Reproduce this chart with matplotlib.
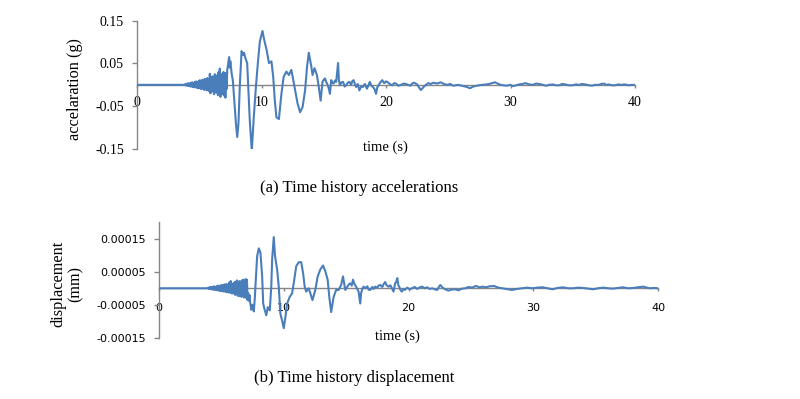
import matplotlib
matplotlib.use("Agg")
import matplotlib.pyplot as plt

# ---- data: (time s, acceleration g) ----
acc_quiet = [(0, 0), (3.8, 0)]
acc_onset = [(3.85, 0.001), (3.9, -0.001), (3.95, 0.002), (4.0, -0.002), (4.05, 0.003),
             (4.1, -0.002), (4.15, 0.004), (4.2, -0.003), (4.25, 0.003), (4.3, -0.004),
             (4.35, 0.005), (4.4, -0.004), (4.45, 0.006), (4.5, -0.005), (4.55, 0.004),
             (4.6, -0.006), (4.65, 0.007), (4.7, -0.005), (4.75, 0.008), (4.8, -0.007),
             (4.85, 0.006), (4.9, -0.008), (4.95, 0.009), (5.0, -0.006), (5.05, 0.011),
             (5.1, -0.009), (5.15, 0.008), (5.2, -0.010), (5.25, 0.012), (5.3, -0.008),
             (5.35, 0.010), (5.4, -0.012), (5.45, 0.014), (5.5, -0.010), (5.55, 0.009),
             (5.6, -0.013), (5.65, 0.016), (5.7, -0.011), (5.75, 0.012), (5.8, -0.015),
             (5.85, 0.026), (5.9, -0.020), (5.95, 0.014), (6.0, -0.012), (6.05, 0.020),
             (6.1, -0.016), (6.15, 0.018), (6.2, -0.022), (6.25, 0.025), (6.3, -0.014),
             (6.35, 0.022), (6.4, -0.018), (6.45, 0.015), (6.5, -0.024), (6.55, 0.030),
             (6.6, -0.020), (6.65, 0.038), (6.7, -0.028), (6.75, 0.020), (6.8, -0.018),
             (6.85, 0.026), (6.9, -0.022), (6.95, 0.030), (7.0, -0.025), (7.05, 0.022),
             (7.1, -0.030), (7.15, 0.028), (7.2, -0.010), (7.25, 0.035), (7.3, 0.045)]
acc_strong = [(7.4, 0.065), (7.45, 0.040), (7.5, 0.055), (7.6, 0.027), (7.7, 0.010),
              (7.8, -0.030), (7.95, -0.092), (8.05, -0.122), (8.15, -0.090), (8.26, 0.000),
              (8.4, 0.079), (8.5, 0.070), (8.6, 0.075), (8.7, 0.063), (8.85, 0.051),
              (8.93, 0.000), (9.06, -0.084), (9.22, -0.154), (9.38, -0.076), (9.55, -0.005),
              (9.73, 0.059), (9.87, 0.102), (10.08, 0.126), (10.21, 0.106), (10.4, 0.083),
              (10.6, 0.051), (10.8, 0.055), (10.94, 0.019), (11.07, -0.037), (11.2, -0.076),
              (11.4, -0.080), (11.6, -0.021), (11.78, 0.019), (12.0, 0.031), (12.2, 0.023),
              (12.4, 0.035), (12.5, 0.019), (12.7, -0.013), (12.9, -0.044), (13.1, -0.064),
              (13.3, -0.052), (13.5, -0.013), (13.66, 0.043), (13.8, 0.075), (14.0, 0.043),
              (14.1, 0.023), (14.26, 0.039), (14.45, 0.023), (14.6, -0.005), (14.75, -0.037)]
acc_coda = [(14.9, 0.007), (15.0, 0.012), (15.1, 0.015), (15.2, 0.006), (15.27, 0.003),
            (15.4, -0.008), (15.5, -0.021), (15.6, 0.011), (15.7, 0.004), (15.8, 0.003),
            (15.9, 0.010), (16.0, 0.007), (16.15, 0.051), (16.22, 0.010), (16.3, -0.001),
            (16.42, 0.006), (16.55, 0.007), (16.68, -0.004), (16.8, -0.001), (16.93, 0.005),
            (17.06, 0.007), (17.2, 0.000), (17.3, 0.009), (17.4, 0.011), (17.5, 0.002),
            (17.6, -0.005), (17.73, 0.002), (17.86, -0.013), (18.0, -0.004), (18.15, -0.005),
            (18.3, 0.002), (18.47, -0.009), (18.6, 0.000), (18.7, 0.007), (18.82, -0.002),
            (18.95, -0.005), (19.08, -0.010), (19.2, -0.021), (19.3, -0.006), (19.4, -0.001),
            (19.55, 0.006), (19.7, 0.011), (19.85, 0.004), (20.0, 0.008), (20.1, 0.007),
            (20.3, 0.002), (20.5, -0.001), (20.65, 0.004), (20.8, 0.003), (21.0, -0.002),
            (21.2, 0.000), (21.45, 0.003), (21.7, 0.001), (21.95, -0.002), (22.1, 0.003),
            (22.25, 0.005), (22.5, 0.001), (22.65, -0.006), (22.8, -0.012), (22.9, -0.009),
            (23.05, -0.004), (23.2, 0.000), (23.4, 0.004), (23.6, 0.002), (23.8, 0.005),
            (24.1, 0.003), (24.4, 0.006), (24.65, 0.002), (24.9, 0.000), (25.15, 0.002),
            (25.4, -0.002), (25.8, 0.000), (26.2, -0.003), (26.5, -0.005), (26.75, -0.008),
            (27.0, -0.004), (27.3, -0.002), (27.7, 0.000), (28.1, 0.001), (28.4, 0.003),
            (28.75, 0.006), (29.1, 0.001), (29.4, -0.001), (29.7, -0.002), (30.0, 0.000),
            (30.2, -0.003), (30.45, -0.001), (30.7, 0.001), (30.95, 0.002), (31.2, 0.004),
            (31.5, 0.001), (31.8, 0.000), (32.05, 0.003), (32.3, 0.002), (32.6, 0.000),
            (32.85, -0.002), (33.1, 0.000), (33.4, 0.001), (33.65, -0.001), (33.9, -0.001),
            (34.15, 0.002), (34.4, 0.001), (34.7, -0.001), (35.0, -0.001), (35.25, 0.001),
            (35.5, 0.000), (35.75, 0.002), (36.0, 0.001), (36.3, -0.001), (36.55, -0.002),
            (36.8, 0.000), (37.1, 0.000), (37.3, 0.002), (37.5, 0.003), (37.7, 0.000),
            (37.9, 0.001), (38.15, -0.001), (38.4, -0.001), (38.65, 0.001), (38.9, 0.000),
            (39.2, 0.001), (39.5, -0.001), (39.75, 0.000), (40.0, 0.000)]

# ---- (time s, displacement in units of 1e-5 mm) ----
disp_quiet = [(0, 0), (3.9, 0)]
disp_onset = [(3.95, 0.2), (4.0, -0.2), (4.05, 0.3), (4.1, -0.2), (4.15, 0.4), (4.2, -0.3),
              (4.25, 0.3), (4.3, -0.4), (4.35, 0.5), (4.4, -0.4), (4.45, 0.6), (4.5, -0.5),
              (4.55, 0.4), (4.6, -0.6), (4.65, 0.7), (4.7, -0.5), (4.75, 0.8), (4.8, -0.7),
              (4.85, 0.6), (4.9, -0.8), (4.95, 0.9), (5.0, -0.7), (5.05, 1.0), (5.1, -0.9),
              (5.15, 0.8), (5.2, -1.0), (5.25, 1.2), (5.3, -0.9), (5.35, 1.1), (5.4, -1.2),
              (5.45, 1.3), (5.5, -1.0), (5.55, 1.0), (5.6, -1.3), (5.65, 1.8), (5.7, -1.2),
              (5.75, 2.2), (5.8, -1.5), (5.85, 1.2), (5.9, -1.6), (5.95, 1.5), (6.0, -1.4),
              (6.05, 1.8), (6.1, -2.0), (6.15, 2.0), (6.2, -1.6), (6.25, 2.4), (6.3, -2.2),
              (6.35, 1.6), (6.4, -2.4), (6.45, 2.2), (6.5, -1.8), (6.55, 2.0), (6.6, -2.6),
              (6.65, 2.4), (6.7, -2.0), (6.75, 2.6), (6.8, -2.8), (6.85, 2.0), (6.9, -2.4),
              (6.95, 2.8), (7.0, -3.0), (7.05, 2.6), (7.1, -3.6), (7.15, -1.5), (7.2, -3.8),
              (7.25, -2.0), (7.3, -4.0), (7.4, -6.5), (7.5, -5.0), (7.6, -7.0), (7.68, -3.0)]
disp_strong = [(7.75, 2.0), (7.87, 9.8), (8.0, 12.1), (8.13, 10.8), (8.27, 3.6), (8.35, -4.6),
               (8.45, -6.2), (8.6, -8.2), (8.72, -5.7), (8.88, -6.7), (9.0, 0.5), (9.07, 8.8),
               (9.2, 15.5), (9.3, 9.8), (9.47, 5.7), (9.6, 0.5), (9.73, -7.7), (9.87, -9.8),
               (10.0, -12.1), (10.13, -8.8), (10.27, -4.6), (10.48, -2.6), (10.67, -1.5),
               (10.8, 1.5), (11.0, 6.7), (11.2, 7.9), (11.4, 7.9), (11.55, 4.6), (11.68, 0.5),
               (11.8, -1.0), (12.0, 0.0), (12.13, -1.5), (12.3, -3.6), (12.53, -0.5),
               (12.72, 3.6), (12.93, 5.7), (13.15, 6.9), (13.33, 5.2), (13.52, 2.6),
               (13.65, -2.6), (13.8, -7.2), (14.0, -2.6), (14.2, -0.5), (14.4, -0.5),
               (14.6, 1.0), (14.75, 3.6)]
disp_coda = [(14.93, -0.5), (15.1, 0.5), (15.22, 1.2), (15.33, 1.5), (15.45, 0.8), (15.55, 2.6),
             (15.68, 1.2), (15.8, 0.5), (15.9, -0.3), (16.0, -1.0), (16.13, -4.6), (16.2, -1.5),
             (16.27, -0.5), (16.4, 0.5), (16.53, 0.0), (16.7, 0.6), (16.8, -0.4), (16.93, -0.5),
             (17.1, 0.4), (17.2, -0.2), (17.33, 0.5), (17.5, 0.2), (17.6, 0.8), (17.73, 1.0),
             (17.9, 0.4), (18.0, 1.2), (18.13, 1.9), (18.25, 0.9), (18.4, 0.5), (18.55, 0.9),
             (18.67, 0.0), (18.8, -1.0), (18.93, 1.5), (19.02, 2.0), (19.1, 3.1), (19.18, 1.0),
             (19.25, 0.5), (19.35, -0.5), (19.46, -1.0), (19.58, -0.3), (19.7, -0.5),
             (19.9, 0.2), (20.1, -0.3), (20.27, 0.0), (20.5, 0.4), (20.7, -0.2), (20.9, 0.3),
             (21.1, 0.5), (21.3, 0.0), (21.5, 0.3), (21.7, -0.2), (21.9, 0.0), (22.1, -0.3),
             (22.3, -0.5), (22.45, 0.5), (22.55, 1.0), (22.7, 0.3), (22.8, 0.0), (23.0, -0.4),
             (23.2, -0.7), (23.45, -0.4), (23.76, -0.3), (24.0, -0.6), (24.3, -0.1),
             (24.57, 0.0), (24.8, 0.4), (25.1, 0.2), (25.4, 0.7), (25.7, 0.3), (25.95, 0.5),
             (26.2, 0.3), (26.5, 0.6), (26.85, 0.7), (27.2, 0.2), (27.5, 0.0), (27.9, -0.3),
             (28.3, -0.5), (28.7, -0.2), (29.1, 0.0), (29.5, 0.2), (29.95, 0.0), (30.35, 0.2),
             (30.75, 0.3), (31.15, 0.0), (31.56, -0.3), (31.95, 0.1), (32.37, 0.3), (32.8, 0.0),
             (33.2, 0.0), (33.6, 0.2), (34.0, 0.1), (34.4, -0.1), (34.8, -0.3), (35.2, 0.0),
             (35.6, 0.2), (36.0, 0.0), (36.4, -0.1), (36.8, 0.1), (37.2, 0.3), (37.6, 0.0),
             (38.0, 0.1), (38.4, 0.3), (38.8, 0.5), (39.1, 0.2), (39.35, 0.0), (39.7, 0.1),
             (40.0, 0.0)]

x_ticks = [0, 10, 20, 30, 40]
acc_ticks = [0.15, 0.05, -0.05, -0.15]
acc_tick_labels = ["0.15", "0.05", "-0.05", "-0.15"]
disp_ticks = [0.00015, 0.00005, -0.00005, -0.00015]
disp_tick_labels = ["0.00015", "0.00005", "-0.00005", "-0.00015"]

acc_pts = acc_quiet + acc_onset + acc_strong + acc_coda
acc_t = [p[0] for p in acc_pts]
acc_g = [p[1] for p in acc_pts]
disp_pts = disp_quiet + disp_onset + disp_strong + disp_coda
disp_t = [p[0] for p in disp_pts]
disp_mm = [p[1] * 1e-5 for p in disp_pts]

LINE = "#4a7ebb"
AXC = "#868686"
SERIF = ["Liberation Serif", "DejaVu Serif"]

fig = plt.figure(figsize=(8.0, 3.99), dpi=100)


def style(ax, ylim, yticks, ylabels, tickfont, tsize, xpad):
    ax.set_xlim(0, 40)
    ax.set_ylim(*ylim)
    for s in ("top", "right"):
        ax.spines[s].set_visible(False)
    ax.spines["bottom"].set_position(("data", 0))
    ax.spines["bottom"].set_color(AXC)
    ax.spines["left"].set_color(AXC)
    ax.spines["bottom"].set_linewidth(1.0)
    ax.spines["left"].set_linewidth(1.0)
    ax.set_xticks(x_ticks)
    ax.set_xticklabels([str(v) for v in x_ticks], family=tickfont, fontsize=tsize)
    ax.set_yticks(yticks)
    ax.set_yticklabels(ylabels, family=tickfont, fontsize=tsize)
    ax.tick_params(axis="x", direction="out", length=2.5, width=1.0, color=AXC, pad=xpad)
    ax.tick_params(axis="y", direction="out", length=3.5, width=1.0, color=AXC, pad=6)
    ax.patch.set_alpha(0)


ax1 = fig.add_axes([0.17125, 0.6266, 0.6225, 0.3215])
ax1.plot(acc_t, acc_g, color=LINE, lw=1.5, zorder=3)
style(ax1, (-0.15, 0.15), acc_ticks, acc_tick_labels, SERIF, 10, 5.5)
ax1.set_ylabel("accelaration (g)", family=SERIF, fontsize=11.7)
ax1.yaxis.set_label_coords(-0.108, 0.469)

ax2 = fig.add_axes([0.19875, 0.1534, 0.62375, 0.2895])
ax2.plot(disp_t, disp_mm, color=LINE, lw=1.5, zorder=3)
style(ax2, (-0.00015, 0.0002), disp_ticks, disp_tick_labels, ["DejaVu Sans"], 8, 8.2)
ax2.set_ylabel("displacement\n(mm)", family=SERIF, fontsize=11.7, linespacing=1.1)
ax2.yaxis.set_label_coords(-0.151, 0.47)

fig.text(385.5 / 800, 1 - 147 / 399, "time (s)", family=SERIF, fontsize=10.5,
         ha="center", va="center")
fig.text(397.5 / 800, 1 - 336 / 399, "time (s)", family=SERIF, fontsize=10.5,
         ha="center", va="center")
fig.text(359 / 800, 1 - 188 / 399, "(a) Time history accelerations", family=SERIF,
         fontsize=12, ha="center", va="center")
fig.text(354 / 800, 1 - 378 / 399, "(b) Time history displacement", family=SERIF,
         fontsize=12, ha="center", va="center")

fig.savefig("out.png", dpi=100, facecolor="white")
